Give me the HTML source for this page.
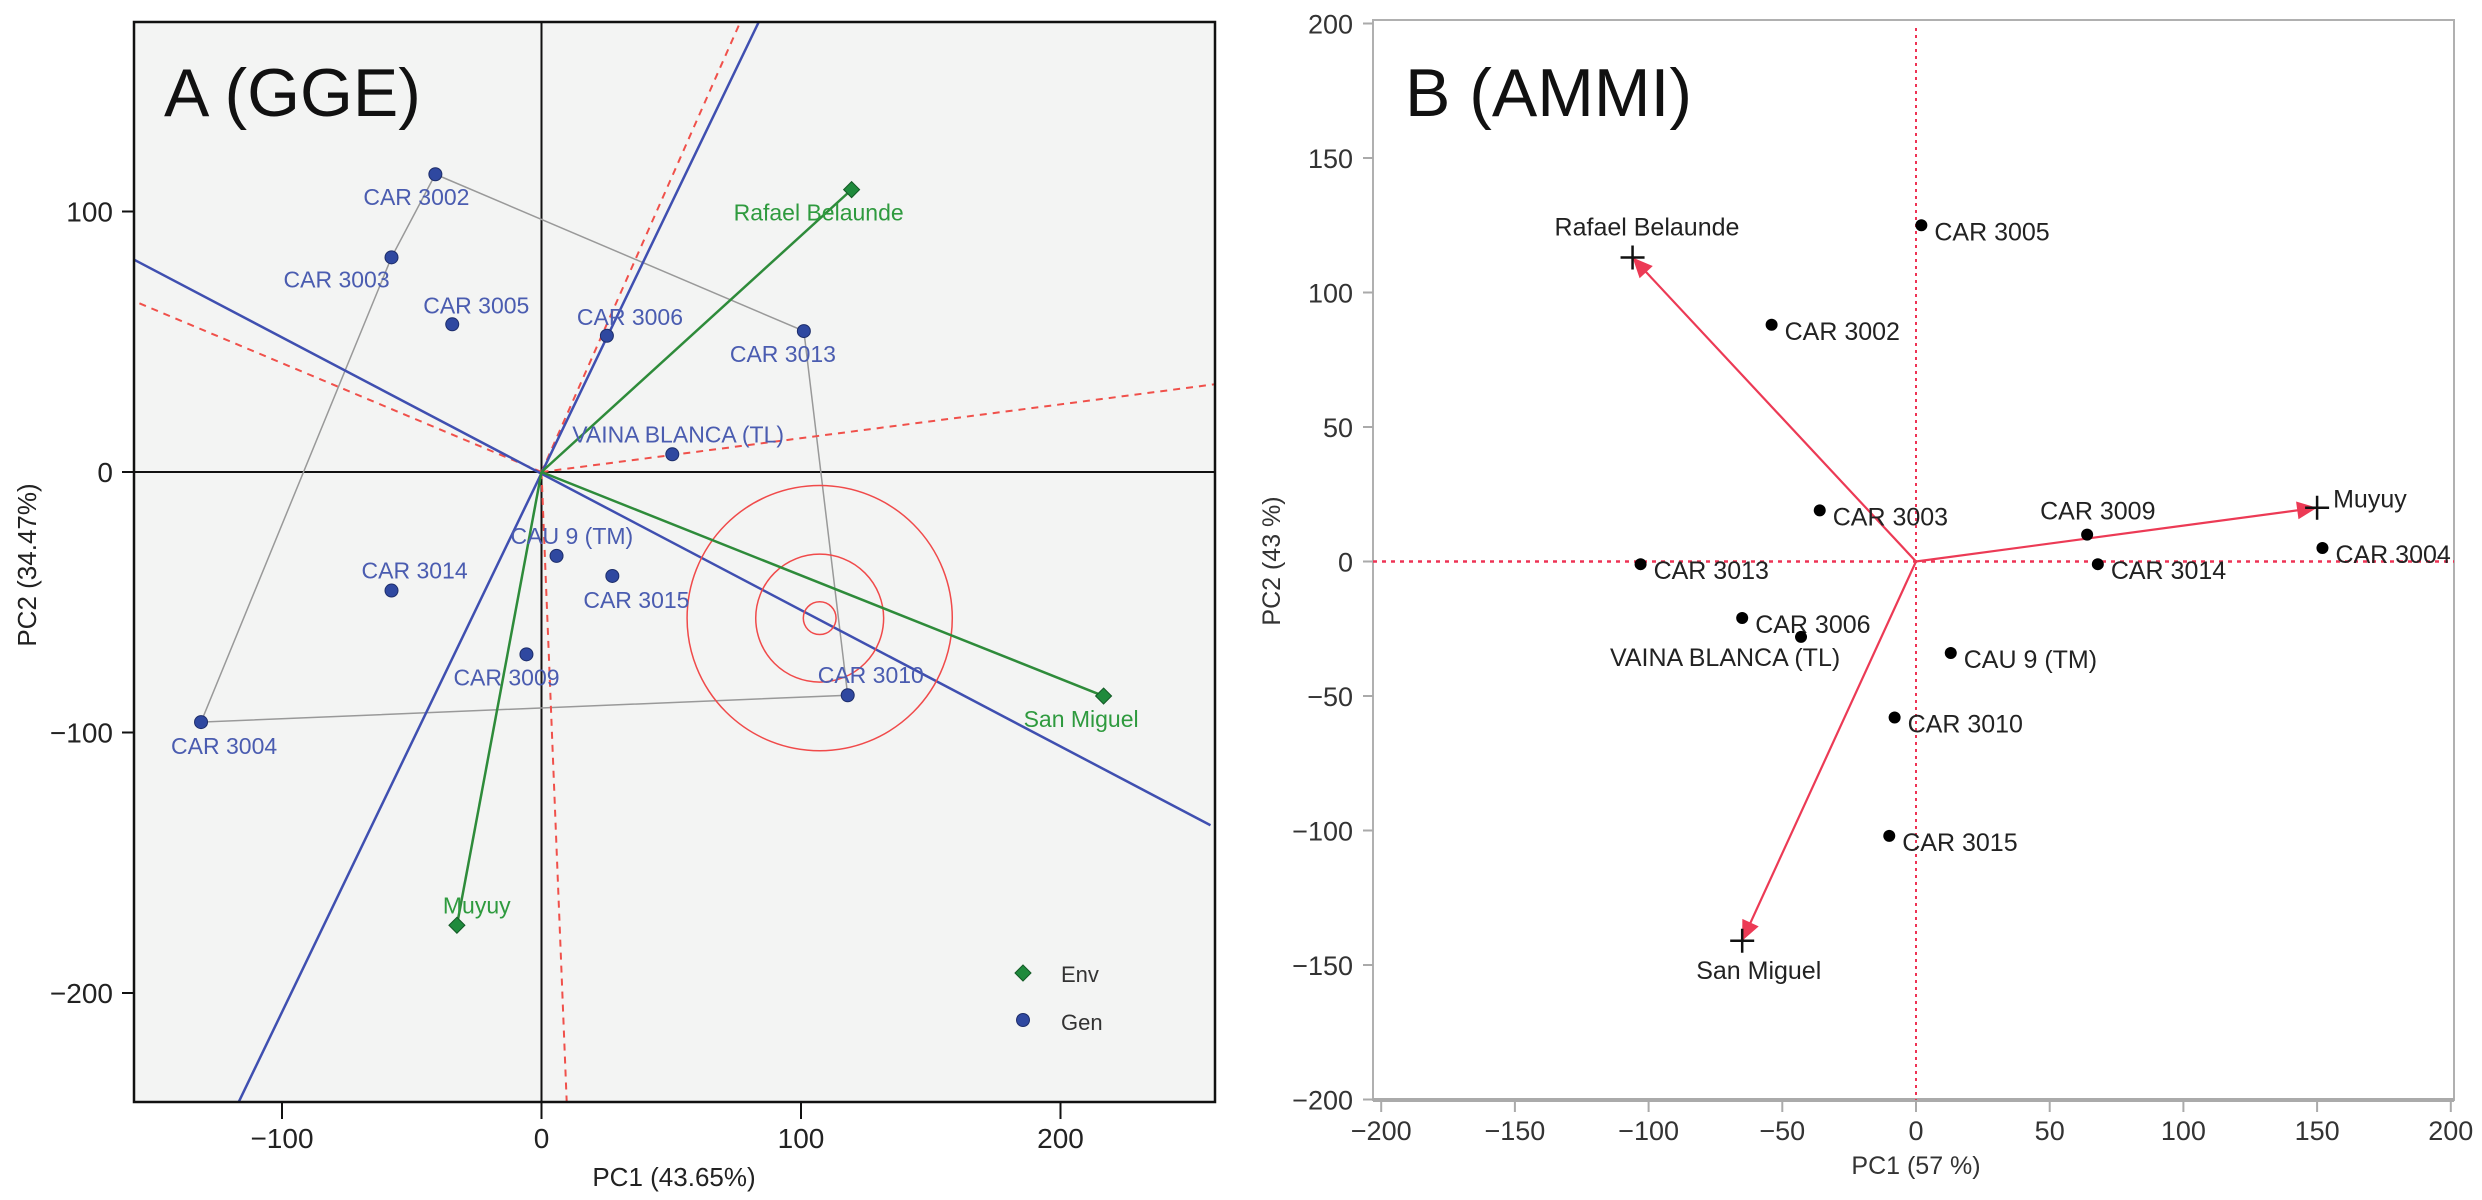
<!DOCTYPE html>
<html><head><meta charset="utf-8"><style>
html,body{margin:0;padding:0;background:#fff;}
svg{display:block;font-family:"Liberation Sans",sans-serif;}
</style></head><body>
<svg id="fig" width="2482" height="1200" viewBox="0 0 2482 1200" xmlns="http://www.w3.org/2000/svg">
<g id="pa"></g>
<g id="pb"></g>
</svg>
<script>
// ---------- Panel A (GGE) data ----------
const genNamesA = ["CAR 3002","CAR 3003","CAR 3005","CAR 3006","CAR 3013","VAINA BLANCA (TL)","CAU 9 (TM)","CAR 3015","CAR 3014","CAR 3009","CAR 3010","CAR 3004"];
const genPC1A = [-40.9,-57.8,-34.4,25.2,101.1,50.4,5.8,27.3,-57.8,-5.8,118,-131.2];
const genPC2A = [114.3,82.4,56.7,52.3,54.1,6.8,-32.2,-39.9,-45.5,-70,-85.7,-96];
const envNamesA = ["Rafael Belaunde","San Miguel","Muyuy"];
const envPC1A = [119.5,216.6,-32.6];
const envPC2A = [108.4,-86,-174];
const hullOrderA = ["CAR 3002","CAR 3013","CAR 3010","CAR 3004","CAR 3003"];
const circleCenterA = [107.2,-56.1];
const circleRadiiA = [6.3,24.6,51];
const blueLineEndsA = [[-117,-242.5,83.6,172.5],[-157,81.5,257.8,-135.6]];
const redRayEndsA = [[9.8,-244],[76.5,172.5],[-157,65.6],[259.6,33.7]];
const xTicksA = [-100,0,100,200];
const yTicksA = [100,0,-100,-200];
// label pixel offsets (layout, not data)
const genOffA = [[-72,31],[-108,30],[-29,-11],[-30,-11],[-74,31],[-100,-12],[-46,-12],[-29,32],[-30,-12],[-73,31],[-30,-12],[-30,32]];
const envOffA = [[-118,31],[-80,31],[-14,-12]];

// ---------- Panel B (AMMI) data ----------
const genNamesB = ["CAR 3005","CAR 3002","CAR 3003","CAR 3009","CAR 3004","CAR 3014","CAR 3013","CAR 3006","VAINA BLANCA (TL)","CAU 9 (TM)","CAR 3010","CAR 3015"];
const genPC1B = [2,-54,-36,64,152,68,-103,-65,-43,13,-8,-10];
const genPC2B = [125,88,19,10,5,-1,-1,-21,-28,-34,-58,-102];
const envNamesB = ["Rafael Belaunde","San Miguel","Muyuy"];
const envPC1B = [-106,-65,150];
const envPC2B = [113,-141,20];
const xTicksB = [-200,-150,-100,-50,0,50,100,150,200];
const yTicksB = [200,150,100,50,0,-50,-100,-150,-200];
const genOffB = [[13,15],[13,15],[13,15],[-47,-15],[13,15],[13,15],[13,15],[13,15],[-191,29],[13,15],[13,15],[13,15]];
const envOffB = [[-78,-22],[-46,38],[16,0]];

const NS="http://www.w3.org/2000/svg";
function mk(parent,tag,attrs,text){const e=document.createElementNS(NS,tag);for(const k in attrs)e.setAttribute(k,attrs[k]);if(text!==undefined)e.textContent=text;parent.appendChild(e);return e;}

// ===== Panel A =====
const A=document.getElementById('pa');
const axL=134,axR=1215,axT=22,axB=1102;
const xA=v=>541.5+2.595*v, yA=v=>472-2.605*v;
let e;
e=mk(A,'rect',{x:axL,y:axT,width:axR-axL,height:axB-axT,fill:'#f3f4f3',stroke:'none'});


const clipA=mk(A,'clipPath',{id:'clipA'});mk(clipA,'rect',{x:axL,y:axT,width:axR-axL,height:axB-axT});
const gA=mk(A,'g',{'clip-path':'url(#clipA)'});
e=mk(gA,'line',{x1:xA(0),y1:axT,x2:xA(0),y2:axB,stroke:'#111','stroke-width':2});


e=mk(gA,'line',{x1:axL,y1:yA(0),x2:axR,y2:yA(0),stroke:'#111','stroke-width':2});


const hp=hullOrderA.map(n=>{const i=genNamesA.indexOf(n);return xA(genPC1A[i])+','+yA(genPC2A[i]);}).join(' ');
e=mk(gA,'polygon',{points:hp,fill:'none',stroke:'#999','stroke-width':1.5});


redRayEndsA.forEach((r,i)=>{
  e=mk(gA,'line',{x1:xA(0),y1:yA(0),x2:xA(r[0]),y2:yA(r[1]),stroke:'#f0504a','stroke-width':2,'stroke-dasharray':'7,6'});
  
  
});
blueLineEndsA.forEach((l,i)=>{
  e=mk(gA,'line',{x1:xA(l[0]),y1:yA(l[1]),x2:xA(l[2]),y2:yA(l[3]),stroke:'#3f4fb0','stroke-width':2.5});
  
  
});
circleRadiiA.forEach((r,i)=>{
  e=mk(gA,'circle',{cx:xA(circleCenterA[0]),cy:yA(circleCenterA[1]),r:r*2.6,fill:'none',stroke:'#f04a4a','stroke-width':1.5});
  
  
});
envNamesA.forEach((n,i)=>{
  e=mk(gA,'line',{x1:xA(0),y1:yA(0),x2:xA(envPC1A[i]),y2:yA(envPC2A[i]),stroke:'#2e8b3a','stroke-width':2.5});
  
  
});
genNamesA.forEach((n,i)=>{
  const cx=xA(genPC1A[i]),cy=yA(genPC2A[i]);
  e=mk(A,'circle',{cx:cx,cy:cy,r:6.5,fill:'#2f48a0',stroke:'#1d2d6a','stroke-width':1});
  
  
  e=mk(A,'text',{x:cx+genOffA[i][0],y:cy+genOffA[i][1],'font-size':23,fill:'#4a5cb0'},n);
  
  
});
envNamesA.forEach((n,i)=>{
  const cx=xA(envPC1A[i]),cy=yA(envPC2A[i]);
  e=mk(A,'polygon',{points:`${cx},${cy-8} ${cx+8},${cy} ${cx},${cy+8} ${cx-8},${cy}`,fill:'#1f8a3c',stroke:'#145a26','stroke-width':1});
  
  
  e=mk(A,'text',{x:cx+envOffA[i][0],y:cy+envOffA[i][1],'font-size':23,fill:'#2e9a3e'},n);
  
  
});
e=mk(A,'rect',{x:axL,y:axT,width:axR-axL,height:axB-axT,fill:'none',stroke:'#111','stroke-width':2.5});


xTicksA.forEach(t=>{
  mk(A,'line',{x1:xA(t),y1:axB,x2:xA(t),y2:axB+17,stroke:'#111','stroke-width':2});
  e=mk(A,'text',{x:xA(t),y:1148,'font-size':28,'text-anchor':'middle',fill:'#222'},t<0?'\u2212'+(-t):String(t));
  
  
});
yTicksA.forEach(t=>{
  mk(A,'line',{x1:axL-12,y1:yA(t),x2:axL,y2:yA(t),stroke:'#111','stroke-width':2});
  e=mk(A,'text',{x:113,y:yA(t)+10,'font-size':28,'text-anchor':'end',fill:'#222'},t<0?'\u2212'+(-t):String(t));
  
  
});
e=mk(A,'text',{x:674,y:1186,'font-size':26,'text-anchor':'middle',fill:'#222'},'PC1 (43.65%)');


e=mk(A,'text',{x:0,y:0,'font-size':26,'text-anchor':'middle',fill:'#222',transform:'translate(36,565) rotate(-90)'},'PC2 (34.47%)');


e=mk(A,'text',{x:164,y:116,'font-size':68,fill:'#111'},'A (GGE)');


e=mk(A,'polygon',{points:'1023,965 1031,973 1023,981 1015,973',fill:'#1f8a3c',stroke:'#145a26'});


e=mk(A,'text',{x:1061,y:982,'font-size':22,fill:'#333'},'Env');


e=mk(A,'circle',{cx:1023,cy:1020,r:6.5,fill:'#2f48a0',stroke:'#1d2d6a'});


e=mk(A,'text',{x:1061,y:1030,'font-size':22,fill:'#333'},'Gen');



// ===== Panel B =====
const B=document.getElementById('pb');
const bL=1373,bR=2454,bT=20,bB=1100;
const xB=v=>1916+2.674*v, yB=v=>561.5-2.69*v;
e=mk(B,'rect',{x:bL,y:bT,width:bR-bL,height:bB-bT,fill:'#fff',stroke:'#b0b0b0','stroke-width':2});


mk(B,'line',{x1:bL,y1:bB,x2:bR,y2:bB,stroke:'#aaa','stroke-width':4});
e=mk(B,'line',{x1:xB(0),y1:bT+8,x2:xB(0),y2:bB,stroke:'#ee3355','stroke-width':2,'stroke-dasharray':'3,4'});


e=mk(B,'line',{x1:bL,y1:yB(0),x2:bR,y2:yB(0),stroke:'#ee3355','stroke-width':2.5,'stroke-dasharray':'4,5'});


xTicksB.forEach(t=>{
  mk(B,'line',{x1:xB(t),y1:bB,x2:xB(t),y2:bB+12,stroke:'#aaa','stroke-width':2});
  e=mk(B,'text',{x:xB(t),y:1140,'font-size':27,'text-anchor':'middle',fill:'#333'},t<0?'\u2212'+(-t):String(t));
  
  
});
yTicksB.forEach(t=>{
  mk(B,'line',{x1:bL-10,y1:yB(t),x2:bL,y2:yB(t),stroke:'#aaa','stroke-width':2});
  e=mk(B,'text',{x:1353,y:yB(t)+10,'font-size':27,'text-anchor':'end',fill:'#333'},t<0?'\u2212'+(-t):String(t));
  
  
});
envNamesB.forEach((n,i)=>{
  const ex=xB(envPC1B[i]),ey=yB(envPC2B[i]);
  e=mk(B,'line',{x1:xB(0),y1:yB(0),x2:ex,y2:ey,stroke:'#ec3a55','stroke-width':2.2});
  
  
  const ang=Math.atan2(ey-yB(0),ex-xB(0));
  const L=20,W=9;
  const bx=ex-L*Math.cos(ang),by=ey-L*Math.sin(ang);
  e=mk(B,'polygon',{points:`${ex},${ey} ${bx-W*Math.sin(ang)},${by+W*Math.cos(ang)} ${bx+W*Math.sin(ang)},${by-W*Math.cos(ang)}`,fill:'#ec3a55'});
  
  
  e=mk(B,'path',{d:`M${ex-12},${ey}H${ex+12}M${ex},${ey-12}V${ey+12}`,stroke:'#111','stroke-width':2.5});
  
  
  e=mk(B,'text',{x:ex+envOffB[i][0],y:ey+envOffB[i][1],'font-size':25,fill:'#222'},n);
  
  
});
genNamesB.forEach((n,i)=>{
  const cx=xB(genPC1B[i]),cy=yB(genPC2B[i]);
  e=mk(B,'circle',{cx:cx,cy:cy,r:6,fill:'#000'});
  
  
  e=mk(B,'text',{x:cx+genOffB[i][0],y:cy+genOffB[i][1],'font-size':25,fill:'#222'},n);
  
  
});
e=mk(B,'text',{x:1916,y:1174,'font-size':25,'text-anchor':'middle',fill:'#333'},'PC1  (57 %)');


e=mk(B,'text',{x:0,y:0,'font-size':25,'text-anchor':'middle',fill:'#333',transform:'translate(1280,561) rotate(-90)'},'PC2  (43 %)');


e=mk(B,'text',{x:1405,y:116,'font-size':68,fill:'#111'},'B (AMMI)');


</script>
</body></html>
